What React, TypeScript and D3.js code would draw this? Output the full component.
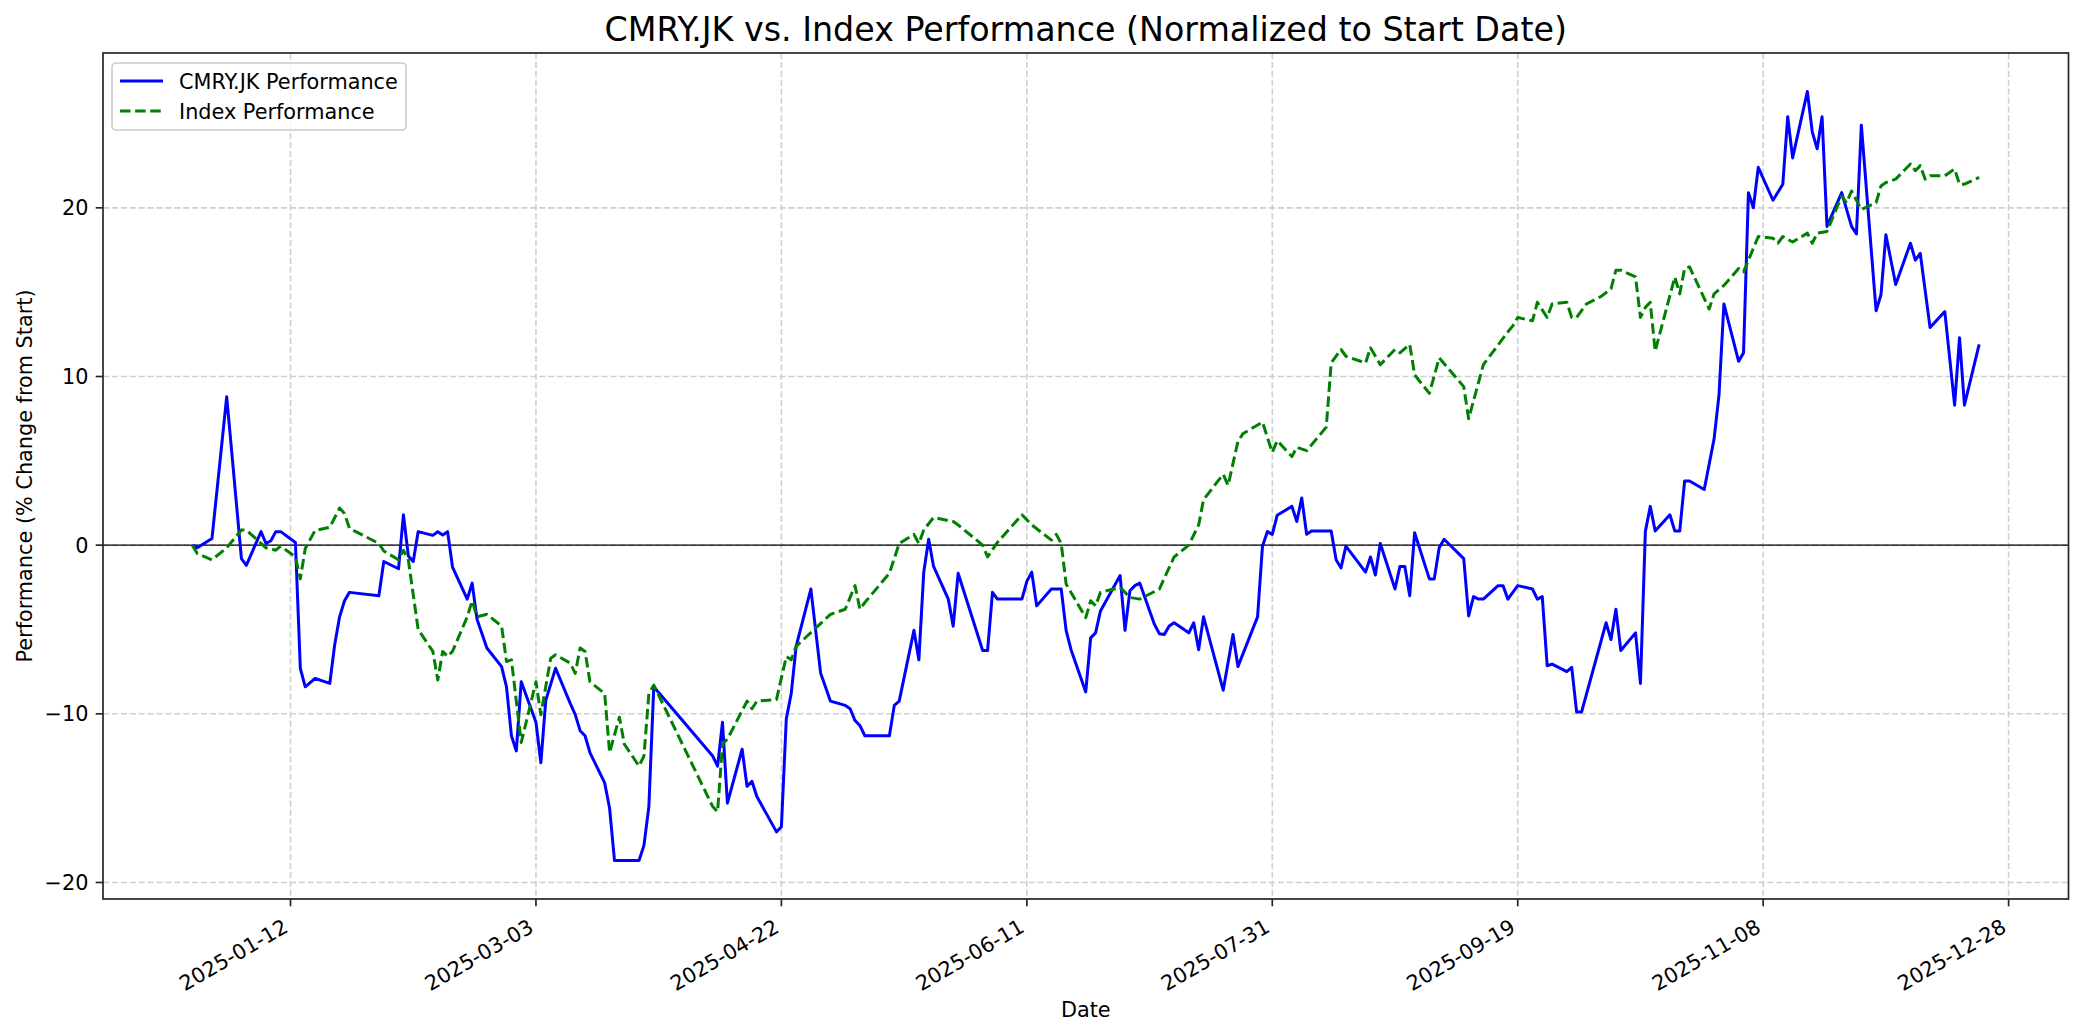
import React from "react";
import * as d3 from "d3";

const title = "CMRY.JK vs. Index Performance (Normalized to Start Date)";
const xLabel = "Date";
const yLabel = "Performance (% Change from Start)";
const seriesNames = ["CMRY.JK Performance", "Index Performance"];

const xTickLabels = ["2025-01-12", "2025-03-03", "2025-04-22", "2025-06-11", "2025-07-31", "2025-09-19", "2025-11-08", "2025-12-28"];
const yTicks = [-20, -10, 0, 10, 20];

const cmryDates = [
  "2024-12-23","2024-12-24","2024-12-27","2024-12-30","2025-01-02","2025-01-03","2025-01-06","2025-01-07","2025-01-08","2025-01-09",
  "2025-01-10","2025-01-13","2025-01-14","2025-01-15","2025-01-17","2025-01-20","2025-01-21","2025-01-22","2025-01-23","2025-01-24",
  "2025-01-30","2025-01-31","2025-02-03","2025-02-04","2025-02-05","2025-02-06","2025-02-07","2025-02-10","2025-02-11","2025-02-12",
  "2025-02-13","2025-02-14","2025-02-17","2025-02-18","2025-02-19","2025-02-21","2025-02-24","2025-02-25","2025-02-26","2025-02-27",
  "2025-02-28","2025-03-03","2025-03-04","2025-03-05","2025-03-07","2025-03-10","2025-03-11","2025-03-12","2025-03-13","2025-03-14",
  "2025-03-17","2025-03-18","2025-03-19","2025-03-24","2025-03-25","2025-03-26","2025-03-27","2025-04-08","2025-04-09","2025-04-10",
  "2025-04-11","2025-04-14","2025-04-15","2025-04-16","2025-04-17","2025-04-21","2025-04-22","2025-04-23","2025-04-24","2025-04-25",
  "2025-04-28","2025-04-30","2025-05-02","2025-05-05","2025-05-06","2025-05-07","2025-05-08","2025-05-09","2025-05-14","2025-05-15",
  "2025-05-16","2025-05-19","2025-05-20","2025-05-21","2025-05-22","2025-05-23","2025-05-26","2025-05-27","2025-05-28","2025-06-02",
  "2025-06-03","2025-06-04","2025-06-05","2025-06-10","2025-06-11","2025-06-12","2025-06-13","2025-06-16","2025-06-18","2025-06-19",
  "2025-06-20","2025-06-23","2025-06-24","2025-06-25","2025-06-26","2025-06-30","2025-07-01","2025-07-02","2025-07-03","2025-07-04",
  "2025-07-07","2025-07-08","2025-07-09","2025-07-10","2025-07-11","2025-07-14","2025-07-15","2025-07-16","2025-07-17","2025-07-21",
  "2025-07-23","2025-07-24","2025-07-28","2025-07-29","2025-07-30","2025-07-31","2025-08-01","2025-08-04","2025-08-05","2025-08-06",
  "2025-08-07","2025-08-08","2025-08-12","2025-08-13","2025-08-14","2025-08-15","2025-08-19","2025-08-20","2025-08-21","2025-08-22",
  "2025-08-25","2025-08-26","2025-08-27","2025-08-28","2025-08-29","2025-09-01","2025-09-02","2025-09-03","2025-09-04","2025-09-08",
  "2025-09-09","2025-09-10","2025-09-11","2025-09-12","2025-09-15","2025-09-16","2025-09-17","2025-09-19","2025-09-22","2025-09-23",
  "2025-09-24","2025-09-25","2025-09-26","2025-09-29","2025-09-30","2025-10-01","2025-10-02","2025-10-07","2025-10-08","2025-10-09",
  "2025-10-10","2025-10-13","2025-10-14","2025-10-15","2025-10-16","2025-10-17","2025-10-20","2025-10-21","2025-10-22","2025-10-23",
  "2025-10-24","2025-10-27","2025-10-29","2025-10-30","2025-10-31","2025-11-03","2025-11-04","2025-11-05","2025-11-06","2025-11-07",
  "2025-11-10","2025-11-12","2025-11-13","2025-11-14","2025-11-17","2025-11-18","2025-11-19","2025-11-20","2025-11-21","2025-11-24",
  "2025-11-26","2025-11-27","2025-11-28","2025-12-01","2025-12-02","2025-12-03","2025-12-05","2025-12-08","2025-12-09","2025-12-10",
  "2025-12-12","2025-12-15","2025-12-17","2025-12-18","2025-12-19","2025-12-22"
];
const cmryValues = [
  0, -0.16, 0.39, 8.8, -0.8, -1.2, 0.8, 0.1, 0.26, 0.8,
  0.8, 0.16, -7.3, -8.4, -7.9, -8.2, -5.9, -4.25, -3.3, -2.8,
  -3.0, -0.97, -1.4, 1.8, -0.64, -0.97, 0.8, 0.58, 0.8, 0.6,
  0.8, -1.3, -3.2, -2.25, -4.4, -6.1, -7.2, -8.4, -11.3, -12.2,
  -8.1, -10.5, -12.9, -9.2, -7.3, -9.4, -10.05, -11.0, -11.3, -12.3,
  -14.1, -15.6, -18.7, -18.7, -17.8, -15.5, -8.4, -12.5, -13.1, -10.5,
  -15.3, -12.1, -14.3, -14.0, -14.9, -17.0, -16.7, -10.3, -8.8, -6.0,
  -2.6, -7.6, -9.25, -9.5, -9.7, -10.4, -10.7, -11.3, -11.3, -9.5,
  -9.25, -5.05, -6.8, -1.6, 0.35, -1.26, -3.2, -4.8, -1.67, -6.25,
  -6.25, -2.8, -3.2, -3.2, -2.15, -1.6, -3.6, -2.6, -2.6, -5.05,
  -6.2, -8.7, -5.5, -5.2, -3.9, -1.8, -5.05, -2.7, -2.4, -2.25,
  -4.7, -5.25, -5.3, -4.8, -4.6, -5.2, -4.6, -6.2, -4.25, -8.6,
  -5.3, -7.2, -4.25, -0.06, 0.8, 0.64, 1.77, 2.3, 1.4, 2.8,
  0.64, 0.84, 0.84, -0.87, -1.35, -0.06, -1.6, -0.7, -1.77, 0.1,
  -2.6, -1.26, -1.26, -3.0, 0.74, -2.0, -2.0, -0.16, 0.35, -0.8,
  -4.2, -3.05, -3.2, -3.2, -2.4, -2.4, -3.2, -2.4, -2.6, -3.2,
  -3.05, -7.15, -7.05, -7.5, -7.25, -9.9, -9.9, -4.6, -5.6, -3.8,
  -6.25, -5.2, -8.2, 0.8, 2.3, 0.84, 1.8, 0.84, 0.84, 3.8,
  3.8, 3.3, 6.3, 8.9, 14.3, 10.9, 11.4, 20.9, 20.0, 22.4,
  20.45, 21.4, 25.4, 22.96, 26.9, 24.5, 23.5, 25.4, 18.9, 20.9,
  18.9, 18.45, 24.9, 13.9, 14.85, 18.4, 15.45, 17.9, 16.9, 17.3,
  12.9, 13.85, 8.3, 12.3, 8.3, 11.9
];

const indexDates = [
  "2024-12-23","2024-12-24","2024-12-27","2024-12-30","2025-01-02","2025-01-03","2025-01-06","2025-01-07","2025-01-09","2025-01-10",
  "2025-01-13","2025-01-14","2025-01-15","2025-01-17","2025-01-20","2025-01-22","2025-01-23","2025-01-24","2025-01-30","2025-01-31",
  "2025-02-03","2025-02-04","2025-02-05","2025-02-07","2025-02-10","2025-02-11","2025-02-12","2025-02-13","2025-02-14","2025-02-17",
  "2025-02-18","2025-02-19","2025-02-21","2025-02-24","2025-02-25","2025-02-26","2025-02-28","2025-03-03","2025-03-04","2025-03-06",
  "2025-03-07","2025-03-10","2025-03-11","2025-03-12","2025-03-13","2025-03-14","2025-03-17","2025-03-18","2025-03-20","2025-03-21",
  "2025-03-24","2025-03-25","2025-03-26","2025-03-27","2025-04-08","2025-04-09","2025-04-10","2025-04-11","2025-04-15","2025-04-16",
  "2025-04-17","2025-04-21","2025-04-23","2025-04-24","2025-04-25","2025-05-02","2025-05-05","2025-05-07","2025-05-08","2025-05-09",
  "2025-05-14","2025-05-16","2025-05-19","2025-05-20","2025-05-21","2025-05-23","2025-05-27","2025-05-28","2025-06-02","2025-06-03",
  "2025-06-05","2025-06-10","2025-06-12","2025-06-16","2025-06-17","2025-06-18","2025-06-19","2025-06-23","2025-06-24","2025-06-25",
  "2025-06-26","2025-06-30","2025-07-02","2025-07-04","2025-07-08","2025-07-11","2025-07-14","2025-07-16","2025-07-17","2025-07-21",
  "2025-07-22","2025-07-24","2025-07-25","2025-07-29","2025-07-31","2025-08-01","2025-08-04","2025-08-05","2025-08-07","2025-08-11",
  "2025-08-12","2025-08-14","2025-08-15","2025-08-19","2025-08-20","2025-08-22","2025-08-25","2025-08-26","2025-08-28","2025-08-29",
  "2025-09-01","2025-09-03","2025-09-08","2025-09-09","2025-09-12","2025-09-17","2025-09-18","2025-09-19","2025-09-22","2025-09-23",
  "2025-09-25","2025-09-26","2025-09-29","2025-09-30","2025-10-01","2025-10-03","2025-10-06","2025-10-08","2025-10-09","2025-10-10",
  "2025-10-13","2025-10-14","2025-10-15","2025-10-16","2025-10-17","2025-10-21","2025-10-22","2025-10-23","2025-10-24","2025-10-28",
  "2025-10-29","2025-10-31","2025-11-03","2025-11-04","2025-11-07","2025-11-10","2025-11-11","2025-11-12","2025-11-14","2025-11-17",
  "2025-11-18","2025-11-19","2025-11-21","2025-11-24","2025-11-25","2025-11-26","2025-11-27","2025-11-28","2025-12-01","2025-12-02",
  "2025-12-03","2025-12-05","2025-12-08","2025-12-09","2025-12-10","2025-12-11","2025-12-12","2025-12-15","2025-12-17","2025-12-18",
  "2025-12-19","2025-12-22"
];
const indexValues = [
  0, -0.5, -0.87, -0.16, 0.9, 0.9, 0.1, -0.16, -0.3, -0.06,
  -0.7, -2.0, -0.2, 0.87, 1.06, 2.2, 1.87, 1.0, 0.1, -0.35,
  -0.87, -0.3, -0.87, -5.0, -6.3, -8.0, -6.3, -6.6, -6.3, -4.25,
  -3.3, -4.25, -4.1, -4.8, -6.9, -6.8, -11.7, -8.1, -10.05, -6.7,
  -6.5, -7.0, -7.6, -6.1, -6.3, -8.1, -8.8, -12.3, -10.2, -11.8,
  -13.1, -12.5, -8.8, -8.3, -15.5, -15.8, -11.8, -11.5, -9.25, -9.7,
  -9.25, -9.15, -6.6, -6.8, -6.0, -4.1, -3.8, -2.4, -3.8, -3.4,
  -1.67, 0.1, 0.64, 0.1, 0.9, 1.64, 1.4, 1.2, 0.0, -0.7,
  0.16, 1.8, 1.2, 0.3, 0.64, 0.1, -2.3, -4.3, -3.3, -3.6,
  -2.8, -2.5, -3.1, -3.2, -2.6, -0.7, 0, 1.2, 2.7, 4.2,
  3.55, 6.15, 6.6, 7.3, 5.5, 6.2, 5.25, 5.8, 5.6, 7.0,
  10.8, 11.6, 11.2, 10.8, 11.7, 10.7, 11.6, 11.4, 11.9, 10.1,
  9.0, 11.1, 9.4, 7.5, 10.7, 12.65, 13.0, 13.5, 13.3, 14.4,
  13.5, 14.3, 14.4, 13.5, 13.5, 14.3, 14.75, 15.2, 16.3, 16.3,
  15.9, 13.5, 14.1, 14.4, 11.5, 15.9, 14.9, 16.4, 16.5, 14.0,
  14.9, 15.4, 16.4, 16.2, 18.3, 18.2, 17.9, 18.3, 17.97, 18.5,
  17.9, 18.5, 18.6, 20.7, 20.3, 21.0, 20.45, 19.9, 20.3, 21.3,
  21.5, 21.7, 22.6, 22.2, 22.5, 21.7, 21.9, 21.9, 22.3, 21.4,
  21.4, 21.8
];

const W = 2084;
const H = 1035;
const M = { left: 103, right: 2068.5, top: 53, bottom: 899 };
const FONT = "'DejaVu Sans', sans-serif";

export default function App() {
  const parse = d3.timeParse("%Y-%m-%d");
  const cmry = cmryDates.map((d, i) => ({ date: parse(d) as Date, value: cmryValues[i] }));
  const index = indexDates.map((d, i) => ({ date: parse(d) as Date, value: indexValues[i] }));
  const all = [...cmry, ...index];

  const [dMin, dMax] = d3.extent(all, (p) => p.date.getTime()) as [number, number];
  const dPad = (dMax - dMin) * 0.05;
  const x = d3.scaleTime().domain([new Date(dMin - dPad), new Date(dMax + dPad)]).range([M.left, M.right]);

  const [vMin, vMax] = d3.extent(all, (p) => p.value) as [number, number];
  const vPad = (vMax - vMin) * 0.05;
  const y = d3.scaleLinear().domain([vMin - vPad, vMax + vPad]).range([M.bottom, M.top]);

  const line = d3
    .line<{ date: Date; value: number }>()
    .x((p) => x(p.date))
    .y((p) => y(p.value));

  const tickLen = 7.3;
  const fs = 20.8;

  return (
    <div style={{ position: "absolute", left: 0, top: 0 }}>
      <svg width={W} height={H} style={{ display: "block", background: "#fff" }} fontFamily={FONT}>
        <rect x={0} y={0} width={W} height={H} fill="#fff" />
        {/* grid */}
        <g stroke="#d0d0d0" strokeWidth={1.6} strokeDasharray="6.2,2.7" fill="none">
          {xTickLabels.map((t) => {
            const px = x(parse(t) as Date);
            return <line key={"gx" + t} x1={px} x2={px} y1={M.top} y2={M.bottom} />;
          })}
          {yTicks.map((t) => (
            <line key={"gy" + t} x1={M.left} x2={M.right} y1={y(t)} y2={y(t)} />
          ))}
        </g>
        {/* zero line */}
        <line x1={M.left} x2={M.right} y1={y(0)} y2={y(0)} stroke="#000" strokeWidth={1.4} />
        {/* series */}
        <path d={line(cmry) || ""} fill="none" stroke="#0000ff" strokeWidth={3} strokeLinejoin="round" strokeLinecap="butt" />
        <path d={line(index) || ""} fill="none" stroke="#008000" strokeWidth={3} strokeDasharray="10.5,4.6" strokeLinejoin="round" strokeLinecap="butt" />
        {/* spines */}
        <rect x={M.left} y={M.top} width={M.right - M.left} height={M.bottom - M.top} fill="none" stroke="#262626" strokeWidth={1.7} />
        {/* x ticks */}
        {xTickLabels.map((t) => {
          const px = x(parse(t) as Date);
          const bx = px - 1;
          const by = M.bottom + 32;
          return (
            <g key={"xt" + t}>
              <line x1={px} x2={px} y1={M.bottom} y2={M.bottom + tickLen} stroke="#262626" strokeWidth={1.7} />
              <text x={bx} y={by} fontSize={fs} textAnchor="end" fill="#000" transform={`rotate(-30 ${bx} ${by})`}>
                {t}
              </text>
            </g>
          );
        })}
        {/* y ticks */}
        {yTicks.map((t) => (
          <g key={"yt" + t}>
            <line x1={M.left - tickLen} x2={M.left} y1={y(t)} y2={y(t)} stroke="#262626" strokeWidth={1.7} />
            <text x={M.left - tickLen - 7.3} y={y(t) + 7.5} fontSize={fs} textAnchor="end" fill="#000">
              {t < 0 ? "\u2212" + Math.abs(t) : String(t)}
            </text>
          </g>
        ))}
        {/* axis labels */}
        <text x={(M.left + M.right) / 2} y={1017} fontSize={fs} textAnchor="middle" fill="#000">
          {xLabel}
        </text>
        <text
          x={32}
          y={(M.top + M.bottom) / 2}
          fontSize={fs}
          textAnchor="middle"
          fill="#000"
          transform={`rotate(-90 32 ${(M.top + M.bottom) / 2})`}
        >
          {yLabel}
        </text>
        {/* title */}
        <text x={(M.left + M.right) / 2} y={41} fontSize={33.3} textAnchor="middle" fill="#000">
          {title}
        </text>
        {/* legend */}
        <g>
          <rect x={112} y={63} width={294} height={67} rx={4} ry={4} fill="#fff" fillOpacity={0.8} stroke="#cccccc" strokeWidth={1.6} />
          <line x1={120} x2={163} y1={81} y2={81} stroke="#0000ff" strokeWidth={3} />
          <text x={179} y={88.5} fontSize={fs} fill="#000">
            {seriesNames[0]}
          </text>
          <line x1={120} x2={163} y1={111} y2={111} stroke="#008000" strokeWidth={3} strokeDasharray="10.5,4.6" />
          <text x={179} y={118.5} fontSize={fs} fill="#000">
            {seriesNames[1]}
          </text>
        </g>
      </svg>
    </div>
  );
}
